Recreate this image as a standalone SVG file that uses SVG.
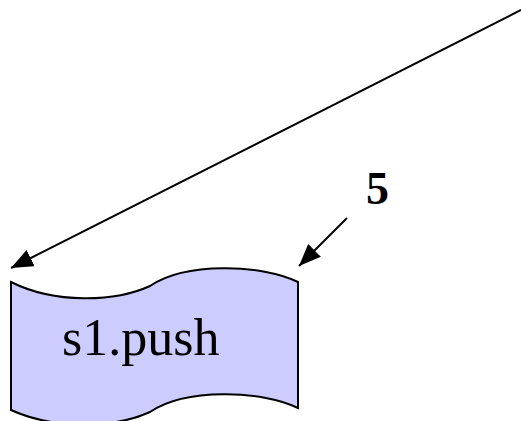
<svg xmlns="http://www.w3.org/2000/svg" width="521" height="421" viewBox="0 0 521 421">
<defs>
<style>
.conn{stroke:#000;stroke-width:2;fill:none;}
.lbl{font-family:"Liberation Serif",serif;fill:#000;}
</style>
<marker id="ah" markerWidth="24" markerHeight="18" refX="22" refY="9" orient="auto" markerUnits="userSpaceOnUse">
<path d="M0,0 L22,9 L0,18 Z" fill="#000"/>
</marker>
</defs>
<g id="connectors">
<line class="conn" x1="521" y1="10" x2="11" y2="268" marker-end="url(#ah)"/>
<line class="conn" x1="347" y1="218" x2="299" y2="266" marker-end="url(#ah)"/>
</g>
<g id="node-push">
<path d="M11,282 C55,304 115,302 150,286 C185,262 262,264 298,282 L298,408 C262,390 185,388 150,412 C115,428 55,430 11,410 Z" fill="#ccccff" stroke="#000" stroke-width="2"/>
<text class="lbl" x="62" y="355" font-size="52">s1.push</text>
</g>
<g id="label-5">
<text class="lbl" x="366" y="204" font-size="46" font-weight="bold">5</text>
</g>
</svg>
